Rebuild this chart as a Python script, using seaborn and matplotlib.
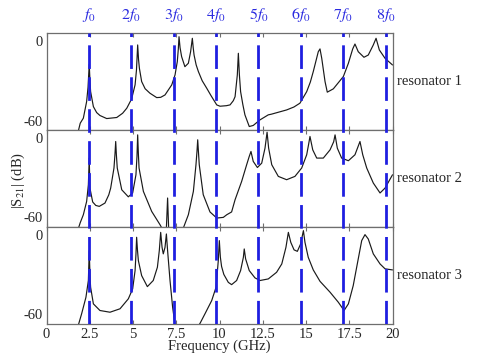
import matplotlib
matplotlib.use("Agg")
import matplotlib.pyplot as plt
import seaborn as sns
import pandas as pd

# ---------------- data ----------------
freq_1 = [1.80, 1.95, 2.13, 2.32, 2.40, 2.47, 2.52, 2.55, 2.71, 2.90, 3.09, 3.48, 4.06, 4.40,
          4.64, 4.92, 5.12, 5.20, 5.27, 5.32, 5.37, 5.50, 5.70, 5.98, 6.37, 6.60, 6.85, 7.24,
          7.43, 7.56, 7.62, 7.66, 7.72, 7.81, 8.00, 8.20, 8.33, 8.43, 8.48, 8.53, 8.65, 8.78,
          9.00, 9.26, 9.50, 9.84, 10.03, 10.40, 10.61, 10.80, 10.90, 11.03, 11.09, 11.15,
          11.22, 11.35, 11.47, 11.72, 11.95, 12.34, 12.82, 13.00, 13.88, 14.30, 14.65, 15.04,
          15.25, 15.42, 15.71, 15.81, 15.91, 16.10, 16.23, 16.58, 17.16, 17.45, 17.70, 17.83,
          18.02, 18.35, 18.60, 18.89, 19.05, 19.24, 19.57, 20.00]
s21_1 = [-70.0, -62.0, -58.2, -45.7, -35.0, -17.6, -32.0, -38.2, -49.5, -54.0, -56.2, -58.5,
         -57.7, -54.5, -50.7, -43.7, -33.1, -22.0, -3.0, -14.0, -20.6, -30.6, -36.0, -39.4,
         -42.7, -42.5, -40.7, -33.1, -25.6, -15.6, -6.0, 3.2, -5.0, -11.8, -19.4, -16.8, -8.1,
         2.0, -5.0, -10.6, -18.0, -23.1, -30.0, -35.6, -41.0, -48.2, -49.2, -48.8, -48.2,
         -45.0, -42.0, -25.6, -9.3, -25.6, -38.2, -48.0, -55.7, -64.5, -63.7, -59.5, -55.7,
         -55.2, -52.0, -49.8, -46.9, -38.2, -31.0, -23.1, -8.1, -6.0, -13.1, -30.6, -38.6,
         -36.1, -26.8, -16.8, -6.0, -2.3, -8.1, -12.3, -10.6, -3.0, 2.0, -6.8, -13.1, -18.1]

freq_2 = [1.80, 1.95, 2.13, 2.32, 2.42, 2.47, 2.51, 2.67, 2.85, 3.05, 3.38, 3.60, 3.71, 3.90,
          3.96, 4.00, 4.04, 4.09, 4.35, 4.73, 4.98, 5.17, 5.23, 5.27, 5.31, 5.35, 5.60, 6.08,
          6.56, 6.75, 6.93, 7.00, 7.06, 7.40, 7.91, 8.20, 8.49, 8.64, 8.70, 8.74, 8.78, 8.83,
          9.06, 9.45, 9.84, 10.22, 10.42, 10.70, 10.90, 11.28, 11.57, 11.72, 11.82, 11.95,
          12.19, 12.44, 12.63, 12.75, 12.84, 13.02, 13.40, 13.88, 14.36, 14.75, 15.04, 15.15,
          15.23, 15.39, 15.62, 16.00, 16.39, 16.60, 16.68, 16.81, 17.06, 17.45, 17.83, 18.12,
          18.28, 18.51, 18.89, 19.28, 19.57, 20.00]
s21_2 = [-70.0, -64.0, -58.0, -48.0, -35.4, -15.3, -37.9, -48.4, -51.0, -51.7, -49.2, -43.0,
         -37.9, -22.8, -12.0, -2.8, -13.0, -22.8, -39.2, -44.5, -41.6, -27.9, -14.0, 2.2,
         -12.0, -22.8, -40.4, -55.5, -65.5, -70.0, -68.0, -45.4, -68.0, -75.0, -68.0, -58.0,
         -40.4, -20.3, -10.0, -1.5, -10.0, -20.3, -42.9, -55.9, -60.5, -60.0, -58.0, -55.9,
         -46.7, -32.9, -20.3, -14.0, -10.3, -17.8, -22.4, -19.1, -7.8, 4.2, -7.8, -20.3,
         -29.1, -31.6, -29.1, -22.8, -12.8, -5.0, 1.0, -9.1, -15.3, -15.3, -9.1, -3.0, 2.2,
         -7.8, -15.3, -17.3, -12.8, -2.8, -12.8, -22.8, -34.1, -41.6, -37.9, -27.9]

freq_3 = [1.80, 2.03, 2.28, 2.42, 2.47, 2.52, 2.55, 2.71, 3.09, 3.67, 4.25, 4.73, 4.98, 5.12,
          5.17, 5.21, 5.26, 5.31, 5.50, 5.83, 6.17, 6.41, 6.52, 6.60, 6.68, 6.75, 6.85, 6.93,
          7.00, 7.14, 7.29, 7.43, 7.80, 8.60, 8.87, 9.16, 9.55, 9.80, 9.93, 9.99, 10.05, 10.12,
          10.25, 10.51, 10.70, 10.99, 11.22, 11.38, 11.43, 11.51, 11.72, 12.05, 12.34, 12.82,
          13.30, 13.60, 13.84, 13.98, 14.12, 14.31, 14.50, 14.69, 14.85, 14.94, 15.13, 15.42,
          15.81, 16.39, 16.87, 17.20, 17.45, 17.73, 18.02, 18.22, 18.41, 18.60, 18.89, 19.28,
          19.57, 20.00]
s21_3 = [-70.0, -59.7, -47.2, -34.6, -12.1, -33.0, -39.7, -52.2, -57.2, -58.5, -55.9, -48.4,
         -40.9, -27.1, -15.0, -2.0, -12.0, -19.6, -30.9, -39.2, -34.6, -24.6, -12.1, 1.7,
         -9.6, -14.5, -9.6, 0.5, -12.1, -34.6, -54.7, -68.0, -75.0, -72.0, -67.0, -59.7,
         -49.7, -39.7, -19.6, -4.5, -17.0, -24.0, -30.0, -36.0, -37.7, -34.6, -27.1, -17.1,
         -10.8, -18.3, -27.1, -32.6, -34.6, -33.4, -28.4, -22.1, -9.6, 1.7, -5.8, -11.5,
         -12.6, -7.0, 3.0, -5.8, -17.1, -26.6, -35.2, -43.4, -51.0, -57.2, -52.2, -38.4,
         -18.3, -4.5, 0.0, -3.3, -14.5, -22.1, -25.8, -26.6]

resonator_names = ["resonator 1", "resonator 2", "resonator 3"]
harmonic_freqs = [2.45, 4.90, 7.35, 9.80, 12.25, 14.70, 17.15, 19.60]
harmonic_labels = [r"$f_0$", r"$2f_0$", r"$3f_0$", r"$4f_0$",
                   r"$5f_0$", r"$6f_0$", r"$7f_0$", r"$8f_0$"]
x_ticks = [0, 2.5, 5, 7.5, 10, 12.5, 15, 17.5, 20]
x_tick_labels = ["0", "2.5", "5", "7.5", "10", "12.5", "15", "17.5", "20"]
y_ticks = [-60, 0]
y_tick_labels = ["-60", "0"]

# ---------------- style ----------------
sns.set_style("white")
plt.rcParams["font.family"] = ["Liberation Serif", "DejaVu Serif"]
plt.rcParams["mathtext.fontset"] = "stix"
plt.rcParams["axes.unicode_minus"] = False

W, H = 479, 353
fig = plt.figure(figsize=(W / 100, H / 100), dpi=100)

left_px, right_px = 46.5, 392.5
top_px, bottom_px = 33.0, 323.5
panel_h = (bottom_px - top_px) / 3
spine_col = "#6e6e6e"

curves = [(freq_1, s21_1), (freq_2, s21_2), (freq_3, s21_3)]
axes = []
for i, (fx, fy) in enumerate(curves):
    y_top = top_px + i * panel_h
    ax = fig.add_axes([left_px / W, 1 - (y_top + panel_h) / H,
                       (right_px - left_px) / W, panel_h / H])
    df = pd.DataFrame({"Frequency": fx, "S21": fy})
    sns.lineplot(data=df, x="Frequency", y="S21", ax=ax, color="#1a1a1a",
                 linewidth=0.85, estimator=None, sort=False)
    ax.set_xlim(0, 20)
    ax.set_ylim(-67, 6)
    ax.set_xticks(x_ticks)
    ax.set_yticks(y_ticks)
    ax.set_yticklabels(y_tick_labels, fontsize=10.5)
    ax.set_xlabel("")
    ax.set_ylabel("")
    ax.tick_params(axis="x", direction="in", length=3, top=True, bottom=True,
                   color=spine_col, width=0.8)
    ax.tick_params(axis="y", length=0, pad=3)
    if i < 2:
        ax.set_xticklabels([])
    else:
        ax.set_xticklabels(x_tick_labels, fontsize=10.5)
        ax.tick_params(axis="x", pad=3)
    for s in ax.spines.values():
        s.set_color(spine_col)
        s.set_linewidth(0.9)
    ax.text(1.014, 0.5, resonator_names[i], transform=ax.transAxes,
            ha="left", va="center", fontsize=10.5)
    axes.append(ax)

# overlay for the harmonic markers spanning all panels
ov = fig.add_axes([left_px / W, 1 - bottom_px / H,
                   (right_px - left_px) / W, (bottom_px - top_px) / H])
ov.set_xlim(0, 20)
ov.set_ylim(0, 1)
ov.axis("off")
ov.patch.set_alpha(0)
for hf, lab in zip(harmonic_freqs, harmonic_labels):
    ov.axvline(hf, color="#1f1fe0", linewidth=2.0, dashes=(8.5, 3.0))
    ov.text(hf, 1.0 + 18 / (bottom_px - top_px), lab, color="#2a2ae0",
            ha="center", va="center", fontsize=11.5,
            transform=ov.get_xaxis_transform())

fig.text((left_px + right_px) / 2 / W, 1 - 346 / H, "Frequency (GHz)",
         ha="center", va="center", fontsize=10.5)
fig.text(18 / W, 1 - 180 / H, r"|S$_{21}$| (dB)", rotation=90,
         ha="center", va="center", fontsize=10.5)

fig.savefig("out.png", dpi=100)
